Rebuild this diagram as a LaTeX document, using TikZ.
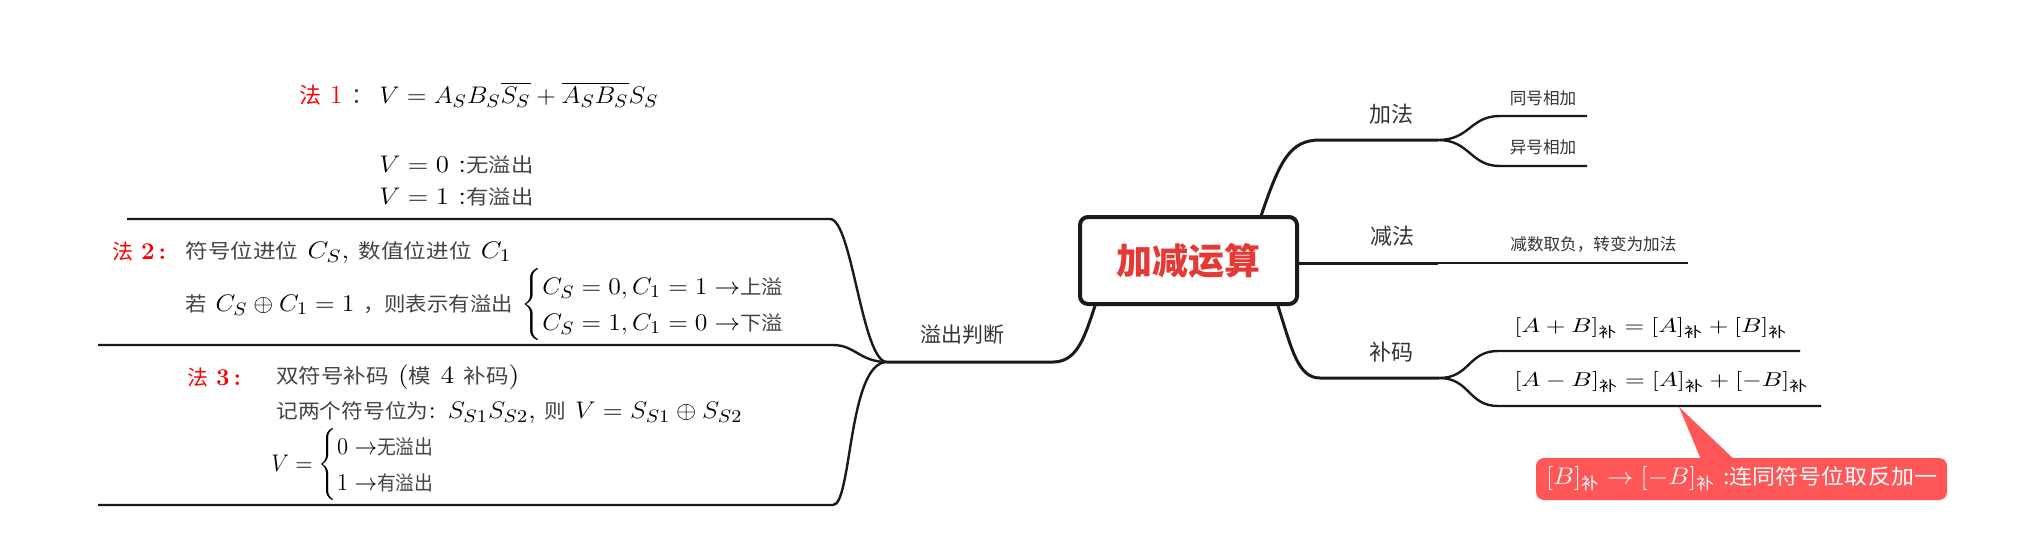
\documentclass[tikz,border=0pt]{standalone}
\usepackage{fontspec}
\usepackage{amsmath}
\usepackage{graphicx}
\newfontfamily\cjk{Noto Sans CJK SC}
\definecolor{cjkgray}{HTML}{444444}
\definecolor{labelgray}{HTML}{333333}
\definecolor{rootred}{HTML}{E53935}
\definecolor{callred}{HTML}{FF5757}
\definecolor{linec}{HTML}{1A1A1A}
\newcommand{\zh}[1]{{\cjk\fontsize{10}{12}\selectfont\color{cjkgray}#1}}
\newcommand{\bu}{\text{\cjk 补}}
\newcommand{\fitw}[2]{\resizebox{#1pt}{\height}{#2}}
\newcommand{\toz}[1]{\;{\rightarrow}\text{\zh{#1}}}
\begin{document}
\begin{tikzpicture}[x=0.5pt,y=-0.5pt,
  lvone/.style={draw=linec,line width=1.5pt},
  lvtwo/.style={draw=linec,line width=1.2pt},
  lbl/.style={inner sep=0,text=labelgray,font=\cjk\fontsize{#1}{#1}\selectfont},
  txt/.style={inner sep=0,anchor=west}]
\useasboundingbox (0,0) rectangle (2040,553);

% root
\node[draw=linec,line width=2pt,rounded corners=4pt,minimum width=108.5pt,minimum height=43.5pt,
  inner sep=0,text=rootred,font=\cjk\bfseries\fontsize{18}{18}\selectfont] (root) at (1188.5,260.5) {加减运算};

% right labels
\node[lbl=11] (add) at (1391,114) {加法};
\node[lbl=8.3] (same) at (1543,98) {同号相加};
\node[lbl=8.3] (diff) at (1543,147) {异号相加};
\node[lbl=11] (sub) at (1392,236) {减法};
\node[lbl=8.3,anchor=west] (subt) at (1510,244) {减数取负，转变为加法};
\node[lbl=11] (comp) at (1391,352) {补码};
\node[lbl=10.5] (ovf) at (962,335) {溢出判断};

% right connectors
\coordinate (a0) at (1261,216);
\coordinate (a1) at (1320,140);
\coordinate (a2) at (1438,140);
\coordinate (a3) at (1500,116); \coordinate (a3e) at (1587,116);
\coordinate (a4) at (1500,166); \coordinate (a4e) at (1587,166);
\draw[lvone] (a0) .. controls (1280,160) and (1290,140) .. (a1) -- (a2);
\draw[lvtwo] (a2) .. controls (1470,140) and (1470,116) .. (a3) -- (a3e);
\draw[lvtwo] (a2) .. controls (1470,140) and (1470,166) .. (a4) -- (a4e);

\coordinate (s0) at (1299,263);
\coordinate (s1) at (1438,263);
\coordinate (s2) at (1688,263);
\draw[lvone] (s0) -- (s1);
\draw[lvtwo] (s1) -- (s2);

\coordinate (c0) at (1278,306);
\coordinate (c1) at (1320,378);
\coordinate (c2) at (1439,378);
\coordinate (c3) at (1498,351); \coordinate (c3e) at (1800,351);
\coordinate (c4) at (1498,406); \coordinate (c4e) at (1821,406);
\draw[lvone] (c0) .. controls (1292,350) and (1298,378) .. (c1) -- (c2);
\draw[lvtwo] (c2) .. controls (1470,378) and (1468,351) .. (c3) -- (c3e);
\draw[lvtwo] (c2) .. controls (1470,378) and (1468,406) .. (c4) -- (c4e);

% left connectors
\coordinate (o0) at (1095,306);
\coordinate (o1) at (1053,362);
\coordinate (hub) at (887,362);
\draw[lvone] (o0) .. controls (1085,335) and (1078,362) .. (o1) -- (hub);
\coordinate (m1a) at (830,219); \coordinate (m1b) at (127,219);
\coordinate (m2a) at (833,345); \coordinate (m2b) at (98,345);
\coordinate (m3a) at (833,505); \coordinate (m3b) at (98,505);
\draw[lvtwo] (hub) .. controls (862,362) and (852,219) .. (m1a) -- (m1b);
\draw[lvtwo] (hub) .. controls (860,362) and (855,345) .. (m2a) -- (m2b);
\draw[lvtwo] (hub) .. controls (848,362) and (852,505) .. (m3a) -- (m3b);

% right formulas
\node[txt,font=\fontsize{10}{12}\selectfont] (f1) at (1514,328)
  {\fitw{136.5}{$[A+B]_{\bu}=[A]_{\bu}+[B]_{\bu}$}};
\node[txt,font=\fontsize{10}{12}\selectfont] (f2) at (1514,382)
  {\fitw{147}{$[A-B]_{\bu}=[A]_{\bu}+[-B]_{\bu}$}};

% callout
\coordinate (tip) at (1679,407);
\fill[callred] (tip) -- (1702,462) -- (1737,462) -- cycle;
\node[fill=callred,rounded corners=4pt,minimum width=205.5pt,minimum height=21pt,inner sep=0,text=white,
  font=\fontsize{12}{14}\selectfont] (call) at (1741.5,479)
  {\fitw{195.5}{$[B]_{\bu}\rightarrow[-B]_{\bu}$ {\cjk\fontsize{10.5}{12}\selectfont :连同符号位取反加一}}};

% method 1
\node[txt,font=\fontsize{13}{15}\selectfont] (m1lab) at (299,95)
  {\color{red}{\cjk\fontsize{11}{13}\selectfont 法} 1 {\cjk\fontsize{11}{13}\selectfont\color{cjkgray}：}};
\node[txt,font=\fontsize{13}{15}\selectfont] (m1f) at (379,95)
  {\fitw{139.5}{$V=A_SB_S\overline{S_S}+\overline{A_S}\overline{B_S}S_S$}};
\node[txt,font=\fontsize{13}{15}\selectfont] (m1v0) at (379,165)
  {\fitw{77}{$V=0$ :\zh{无溢出}}};
\node[txt,font=\fontsize{13}{15}\selectfont] (m1v1) at (379,197)
  {\fitw{77}{$V=1$ :\zh{有溢出}}};

% method 2
\node[txt,font=\fontsize{12}{14}\selectfont] (m2lab) at (112,252)
  {\color{red}{\cjk\fontsize{10.5}{12}\selectfont 法} \textbf{2}\,\textbf{:}};
\node[txt,font=\fontsize{12.5}{15}\selectfont] (m2l1) at (185,252)
  {\fitw{163}{\zh{符号位进位} $C_S$, \zh{数值位进位} $C_1$}};
\node[txt,font=\fontsize{12.5}{15}\selectfont] (m2l2) at (185,305)
  {\fitw{313.5}{\zh{若} $C_S\oplus C_1=1$ \zh{，则表示有溢出} $\begin{cases}C_S=0, C_1=1\toz{上溢}\\ C_S=1, C_1=0\toz{下溢}\end{cases}$}};

% method 3
\node[txt,font=\fontsize{12}{14}\selectfont] (m3lab) at (187,377)
  {\color{red}{\cjk\fontsize{10.5}{12}\selectfont 法} \textbf{3}\,\textbf{:}};
\node[txt,font=\fontsize{12.5}{15}\selectfont] (m3l1) at (276,377)
  {\fitw{121.5}{\zh{双符号补码} (\zh{模} 4 \zh{补码})}};
\node[txt,font=\fontsize{12.5}{15}\selectfont] (m3l2) at (276,412)
  {\fitw{233}{\zh{记两个符号位为}: $S_{S1}S_{S2}$, \zh{则} $V=S_{S1}\oplus S_{S2}$}};
\node[txt,font=\fontsize{12.5}{15}\selectfont] (m3l3) at (271,465)
  {\fitw{94}{$V=\begin{cases}0\toz{无溢出}\\1\toz{有溢出}\end{cases}$}};
\end{tikzpicture}
\end{document}
